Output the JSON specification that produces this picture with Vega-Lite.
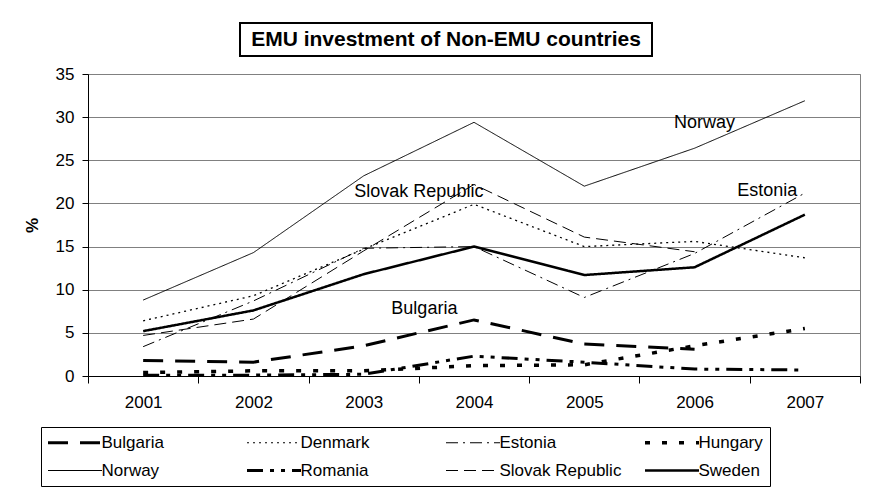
{
  "$schema": "https://vega.github.io/schema/vega-lite/v6.json",
  "background": "white",
  "padding": {"left": 22, "top": 22, "right": 5, "bottom": 5},
  "spacing": 7,
  "center": true,
  "resolve": {"legend": {"strokeDash": "independent"}},
  "config": {
    "font": "Liberation Sans",
    "view": {"stroke": "#808080", "strokeWidth": 1}
  },
  "datasets": {
    "series": [
      {"country": "Bulgaria", "year": 2001, "value": 1.8},
      {"country": "Bulgaria", "year": 2002, "value": 1.6},
      {"country": "Bulgaria", "year": 2003, "value": 3.5},
      {"country": "Bulgaria", "year": 2004, "value": 6.5},
      {"country": "Bulgaria", "year": 2005, "value": 3.7},
      {"country": "Bulgaria", "year": 2006, "value": 3.1},
      {"country": "Denmark", "year": 2001, "value": 6.4},
      {"country": "Denmark", "year": 2002, "value": 9.3},
      {"country": "Denmark", "year": 2003, "value": 14.7},
      {"country": "Denmark", "year": 2004, "value": 19.9},
      {"country": "Denmark", "year": 2005, "value": 15.0},
      {"country": "Denmark", "year": 2006, "value": 15.6},
      {"country": "Denmark", "year": 2007, "value": 13.7},
      {"country": "Estonia", "year": 2001, "value": 3.4},
      {"country": "Estonia", "year": 2002, "value": 8.7},
      {"country": "Estonia", "year": 2003, "value": 14.8},
      {"country": "Estonia", "year": 2004, "value": 15.0},
      {"country": "Estonia", "year": 2005, "value": 9.1},
      {"country": "Estonia", "year": 2006, "value": 14.2},
      {"country": "Estonia", "year": 2007, "value": 21.2},
      {"country": "Hungary", "year": 2001, "value": 0.4},
      {"country": "Hungary", "year": 2002, "value": 0.6},
      {"country": "Hungary", "year": 2003, "value": 0.6},
      {"country": "Hungary", "year": 2004, "value": 1.2},
      {"country": "Hungary", "year": 2005, "value": 1.3},
      {"country": "Hungary", "year": 2006, "value": 3.5},
      {"country": "Hungary", "year": 2007, "value": 5.5},
      {"country": "Norway", "year": 2001, "value": 8.8},
      {"country": "Norway", "year": 2002, "value": 14.3},
      {"country": "Norway", "year": 2003, "value": 23.2},
      {"country": "Norway", "year": 2004, "value": 29.4},
      {"country": "Norway", "year": 2005, "value": 22.0},
      {"country": "Norway", "year": 2006, "value": 26.4},
      {"country": "Norway", "year": 2007, "value": 31.9},
      {"country": "Romania", "year": 2001, "value": 0.1},
      {"country": "Romania", "year": 2002, "value": 0.1},
      {"country": "Romania", "year": 2003, "value": 0.2},
      {"country": "Romania", "year": 2004, "value": 2.3},
      {"country": "Romania", "year": 2005, "value": 1.6},
      {"country": "Romania", "year": 2006, "value": 0.8},
      {"country": "Romania", "year": 2007, "value": 0.7},
      {"country": "Slovak Republic", "year": 2001, "value": 4.7},
      {"country": "Slovak Republic", "year": 2002, "value": 6.6},
      {"country": "Slovak Republic", "year": 2003, "value": 14.5},
      {"country": "Slovak Republic", "year": 2004, "value": 22.2},
      {"country": "Slovak Republic", "year": 2005, "value": 16.1},
      {"country": "Slovak Republic", "year": 2006, "value": 14.4},
      {"country": "Sweden", "year": 2001, "value": 5.2},
      {"country": "Sweden", "year": 2002, "value": 7.6},
      {"country": "Sweden", "year": 2003, "value": 11.8},
      {"country": "Sweden", "year": 2004, "value": 15.0},
      {"country": "Sweden", "year": 2005, "value": 11.7},
      {"country": "Sweden", "year": 2006, "value": 12.6},
      {"country": "Sweden", "year": 2007, "value": 18.7}
    ],
    "labels": [
      {"label": "Slovak Republic", "pos": 2003.5, "value": 21.3},
      {"label": "Norway", "pos": 2006.09, "value": 29.3},
      {"label": "Estonia", "pos": 2006.66, "value": 21.4},
      {"label": "Bulgaria", "pos": 2003.55, "value": 7.8}
    ]
  },
  "vconcat": [
    {
      "spacing": 0,
      "hconcat": [
        {
          "width": 412,
          "height": 33,
          "view": {"stroke": "black", "strokeWidth": 2},
          "data": {"values": [{"t": "EMU investment of Non-EMU countries"}]},
          "mark": {"type": "text", "fontSize": 21, "fontWeight": "bold", "color": "black"},
          "encoding": {"text": {"field": "t", "type": "nominal"}}
        },
        {
          "width": 56,
          "height": 33,
          "view": {"stroke": null},
          "data": {"values": []},
          "mark": {"type": "text"},
          "encoding": {}
        }
      ]
    },
    {
      "width": 772,
      "height": 302,
      "encoding": {
        "y": {
          "field": "value",
          "type": "quantitative",
          "scale": {"domain": [0, 35], "nice": false},
          "axis": {
            "values": [0, 5, 10, 15, 20, 25, 30, 35],
            "title": "%",
            "titleFontWeight": "bold",
            "titleFontSize": 17,
            "titleColor": "black",
            "titlePadding": 14,
            "labelFontSize": 17,
            "labelColor": "black",
            "labelPadding": 8,
            "tickSize": 6,
            "tickColor": "black",
            "domainColor": "black",
            "grid": true,
            "gridColor": "#808080",
            "gridWidth": 1
          }
        }
      },
      "layer": [
        {
          "data": {"name": "series"},
          "mark": {"type": "line", "color": "black", "strokeCap": "butt", "strokeJoin": "miter"},
          "encoding": {
            "x": {
              "field": "year",
              "type": "ordinal",
              "bandPosition": 0.5,
              "scale": {"type": "band", "paddingInner": 0, "paddingOuter": 0},
              "axis": {
                "title": null,
                "labelAngle": 0,
                "tickBand": "extent",
                "tickSize": 7,
                "tickColor": "black",
                "domainColor": "black",
                "labelPadding": 11,
                "labelFontSize": 17,
                "labelColor": "black",
                "grid": false
              }
            },
            "strokeDash": {
              "field": "country",
              "type": "nominal",
              "scale": {
                "domain": ["Bulgaria", "Denmark", "Estonia", "Hungary", "Norway", "Romania", "Slovak Republic", "Sweden"],
                "range": [[20, 12], [2, 4], [12, 5, 2, 5], [5, 12], [1, 0], [16, 7, 4, 7, 4, 7], [12, 6], [1, 0]]
              },
              "legend": {
                "title": null,
                "orient": "none",
                "legendX": -47,
                "legendY": 353,
                "direction": "horizontal",
                "columns": 4,
                "gridAlign": "all",
                "symbolType": "stroke",
                "symbolSize": 2916,
                "symbolOffset": 18.5,
                "symbolStrokeColor": "black",
                "labelFontSize": 17,
                "labelColor": "black",
                "labelOffset": 18,
                "labelLimit": 220,
                "columnPadding": 16,
                "rowPadding": 10,
                "padding": 7,
                "strokeColor": "black",
                "encode": {
                  "entries": {
                    "update": {
                      "width": {"value": 184}
                    }
                  },
                  "symbols": {
                    "update": {
                      "strokeWidth": {"signal": "indexof(['Bulgaria','Romania'], datum.value) >= 0 ? 3 : (datum.value === 'Hungary' ? 3.5 : (datum.value === 'Sweden' ? 2.5 : 1.2))"}
                    }
                  }
                }
              }
            },
            "strokeWidth": {
              "condition": [
                {"test": "indexof(['Bulgaria','Romania'], datum.country) >= 0", "value": 3},
                {"test": "datum.country === 'Hungary'", "value": 3.5},
                {"test": "datum.country === 'Sweden'", "value": 2.5},
                {"test": "datum.country === 'Denmark'", "value": 1.3}
              ],
              "value": 1
            }
          }
        },
        {
          "data": {"name": "labels"},
          "mark": {"type": "text", "fontSize": 18, "color": "black"},
          "encoding": {
            "x": {
              "field": "pos",
              "type": "quantitative",
              "scale": {"domain": [2000.5, 2007.5], "nice": false, "zero": false},
              "axis": null
            },
            "text": {"field": "label", "type": "nominal"}
          }
        }
      ],
      "resolve": {"scale": {"x": "independent"}}
    }
  ]
}
